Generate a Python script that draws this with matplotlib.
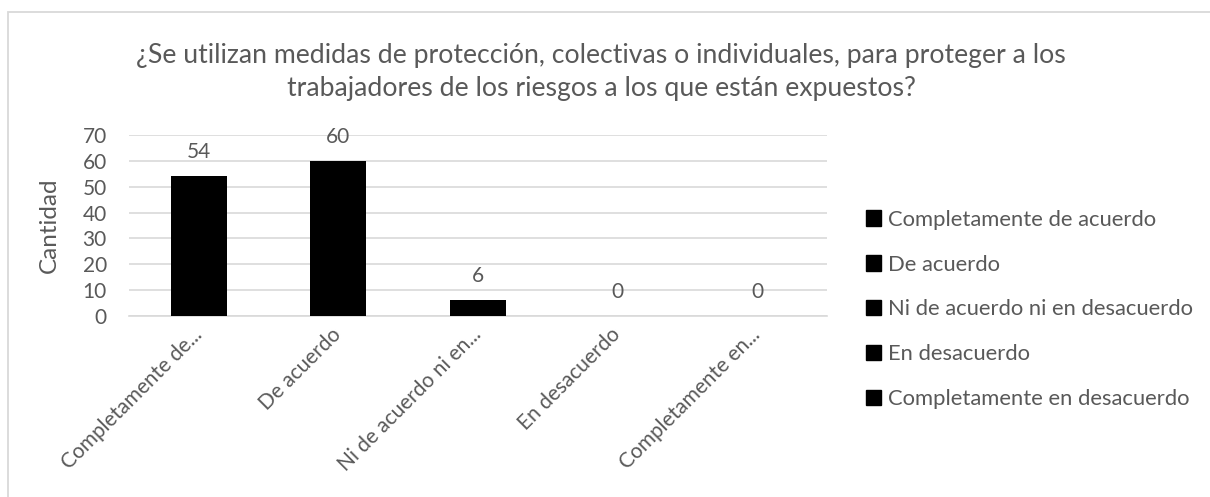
import matplotlib
matplotlib.use("Agg")
import matplotlib.pyplot as plt
from matplotlib.patches import Patch, Rectangle

categories = [
    "Completamente de acuerdo",
    "De acuerdo",
    "Ni de acuerdo ni en desacuerdo",
    "En desacuerdo",
    "Completamente en desacuerdo",
]
tick_labels = [
    "Completamente de...",
    "De acuerdo",
    "Ni de acuerdo ni en...",
    "En desacuerdo",
    "Completamente en...",
]
values = [54, 60, 6, 0, 0]
y_ticks = [0, 10, 20, 30, 40, 50, 60, 70]

title = ("¿Se utilizan medidas de protección, colectivas o individuales, para proteger a los\n"
         "trabajadores de los riesgos a los que están expuestos?")

TEXT = "#595959"
GRID = "#D9D9D9"
FONT = ["Lato", "DejaVu Sans"]
plt.rcParams["font.family"] = FONT

W, H = 1210, 497
fig = plt.figure(figsize=(W / 100, H / 100), dpi=100)

# chart area border (top and left edges visible)
fig.patches.append(Rectangle((8 / W, -0.1), 1.2, 1 - 12 / H + 0.1,
                             transform=fig.transFigure, fill=False,
                             edgecolor=GRID, linewidth=1.3))

ax = fig.add_axes([129 / W, 1 - 316 / H, (827 - 129) / W, (316 - 135) / H])
x = list(range(len(categories)))
bars = ax.bar(x, values, width=0.4, color="black", zorder=3)

ax.set_xlim(-0.5, len(categories) - 0.5)
ax.set_ylim(0, 70)
ax.set_yticks(y_ticks)
ax.yaxis.grid(True, color=GRID, linewidth=1.2, zorder=0)
for s in ["top", "right", "left"]:
    ax.spines[s].set_visible(False)
ax.spines["bottom"].set_color(GRID)
ax.spines["bottom"].set_linewidth(1.2)
ax.tick_params(axis="y", length=0, pad=16, labelsize=15, labelcolor=TEXT)
ax.tick_params(axis="x", length=0)
ax.set_xticks(x)
ax.set_xticklabels(tick_labels, rotation=45, ha="right", va="center",
                   rotation_mode="anchor", fontsize=15, color=TEXT)
for lbl in ax.get_xticklabels():
    lbl.set_y(-0.06)
ax.set_ylabel("Cantidad", fontsize=17.5, color=TEXT, labelpad=12)
ax.yaxis.set_label_coords(-(129 - 60) / (827 - 129), 0.5)

for xi, v in zip(x, values):
    ax.annotate(str(v), (xi, v), xytext=(0, 24), textcoords="offset pixels",
                ha="center", va="center", fontsize=15, color=TEXT)

fig.text(601 / W, 1 - 72 / H, title, ha="center", va="center",
         fontsize=19.2, color=TEXT, linespacing=1.36)

handles = [Patch(facecolor="black", edgecolor="black") for _ in categories]
leg = fig.legend(handles, categories, loc="upper left",
                 bbox_to_anchor=(857 / W, 1 - 201 / H), frameon=False,
                 fontsize=15.8, handlelength=0.7, handleheight=0.7,
                 handletextpad=0.3, labelspacing=1.13, borderaxespad=0)
for t in leg.get_texts():
    t.set_color(TEXT)

fig.savefig("out.png", dpi=100)
